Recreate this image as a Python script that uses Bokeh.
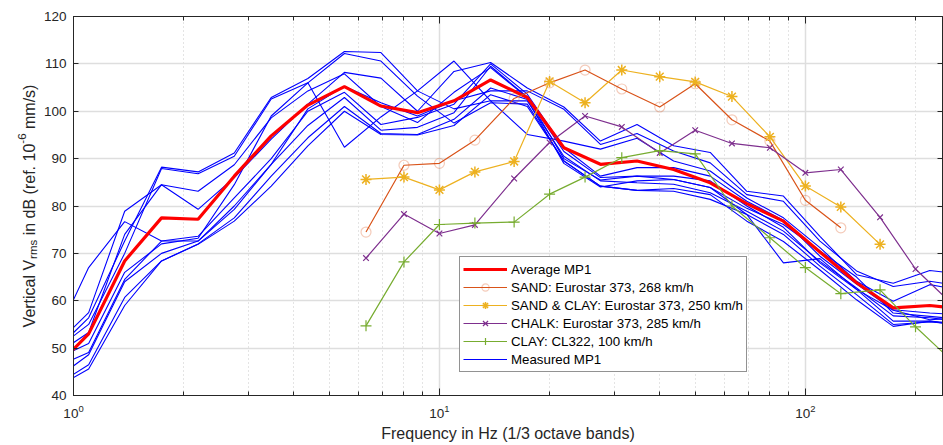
import math

from bokeh.plotting import figure
from bokeh.layouts import row
from bokeh.core.properties import value
from bokeh.models import (Range1d, LogAxis, LinearAxis, FixedTicker, LogTicker,
                          Legend, LegendItem)
from bokeh.embed import file_html
from bokeh.resources import INLINE

# ---------------------------------------------------------------------------
# Data
# ---------------------------------------------------------------------------
# Frequencies of the measured 1/3-octave spectra at MP1 (Hz)
meas_freq = [0.87, 1.1, 1.38, 1.74, 2.19, 2.75, 3.47, 4.37, 5.5, 6.92, 8.71,
             10.96, 13.8, 17.38, 21.88, 27.54, 34.67, 43.65, 54.95, 69.18,
             87.1, 109.6, 138.0, 173.8, 218.8, 275.4]

# Individual measured passes at MP1 (dB ref. 1e-6 mm/s)
measured_mp1 = [
    [50.3, 67.0, 76.7, 72.6, 72.6, 79.3, 88.8, 100.5, 105.3, 101.8, 99.0, 102.2, 104.3,
     104.3, 100.4, 93.0, 95.3, 91.6, 89.1, 82.4, 81.0, 72.6, 66.3, 63.0, 64.1, 63.0],
    [49.8, 57.5, 78.9, 84.5, 83.1, 88.7, 98.6, 104.3, 107.9, 101.0, 97.6, 104.0, 109.2,
     102.9, 91.5, 86.0, 86.3, 85.6, 83.9, 79.5, 76.1, 70.5, 65.0, 57.4, 56.7, 56.0],
    [48.7, 56.4, 72.6, 88.2, 87.2, 91.2, 102.9, 106.9, 112.6, 112.4, 104.3, 100.5, 102.2,
     102.2, 90.5, 85.3, 84.9, 84.6, 82.8, 78.9, 74.7, 68.3, 62.7, 56.8, 56.4, 55.5],
    [49.0, 55.0, 70.0, 87.9, 86.8, 90.5, 102.6, 106.0, 112.2, 110.6, 103.2, 97.5, 101.8,
     101.5, 89.5, 84.2, 83.3, 83.1, 81.4, 78.2, 68.0, 68.9, 62.4, 55.7, 55.7, 55.0],
    [48.0, 53.3, 74.0, 84.5, 79.3, 86.0, 94.1, 101.5, 108.2, 107.0, 100.0, 108.4, 110.3,
     104.9, 100.9, 93.7, 97.2, 92.7, 91.3, 83.1, 82.1, 73.6, 65.5, 63.7, 66.4, 65.5],
    [47.2, 51.0, 66.0, 72.0, 73.2, 84.5, 99.0, 106.0, 92.4, 98.8, 104.3, 110.6, 102.2,
     95.1, 93.7, 92.0, 94.3, 89.5, 87.4, 81.7, 77.5, 71.2, 64.1, 59.9, 63.4, 62.0],
    [45.6, 49.1, 64.5, 72.6, 73.6, 81.7, 90.0, 100.0, 104.0, 97.2, 98.7, 101.5, 110.0,
     103.6, 92.3, 86.3, 88.1, 88.1, 86.3, 81.0, 77.0, 69.4, 63.5, 58.1, 57.4, 57.0],
    [42.8, 48.6, 64.0, 70.0, 72.6, 80.0, 88.8, 97.0, 102.9, 96.0, 96.6, 99.7, 109.5,
     103.0, 90.0, 85.5, 86.3, 86.3, 85.3, 80.0, 75.5, 68.0, 62.4, 58.0, 56.0, 56.5],
    [41.5, 46.5, 60.7, 68.4, 72.0, 77.5, 86.3, 94.4, 101.0, 95.3, 95.1, 98.3, 104.9,
     102.5, 89.0, 84.0, 85.3, 85.6, 83.9, 78.2, 74.0, 67.3, 61.3, 55.0, 55.5, 55.0],
    [41.1, 45.6, 59.0, 68.4, 71.9, 76.8, 84.2, 92.7, 100.0, 95.1, 95.0, 97.0, 103.5,
     101.0, 89.5, 84.2, 83.3, 83.7, 82.4, 76.8, 72.5, 66.5, 60.2, 54.6, 55.7, 54.5],
]

# Average of the measured passes
average_mp1 = [45.0, 53.0, 68.4, 77.5, 77.2, 86.3, 94.8, 101.3, 105.2, 101.1, 99.7,
               102.2, 106.6, 102.9, 92.3, 88.8, 89.5, 87.7, 84.9, 80.5, 76.8, 70.3,
               63.8, 58.5, 59.0, 58.2]

# Band centres of the reference spectra (Hz)
ref_freq = [6.3, 8, 10, 12.5, 16, 20, 25, 31.5, 40, 50, 63, 80, 100, 125, 160, 200, 250]

sand_268 = [74.5, 88.6, 89.0, 93.9, 102.7, 106.0, 108.7, 104.7, 100.9, 105.8, 98.2,
            93.7, 81.2, 75.4]
sand_clay_250 = [85.6, 86.1, 83.4, 87.2, 89.4, 106.3, 101.8, 108.7, 107.3, 106.2,
                 103.1, 94.6, 84.2, 79.8, 71.9]
chalk_285 = [69.0, 78.3, 74.2, 76.0, 85.8, 93.4, 99.0, 96.7, 91.2, 96.0, 93.2, 92.3,
             87.0, 87.7, 77.6, 66.7, 59.5]
clay_cl322 = [54.7, 68.2, 76.1, 76.4, 76.6, 82.5, 86.1, 90.2, 91.7, 91.0, 80.0, 73.3,
              67.0, 61.5, 62.3, 54.5, 47.5]

y_ticks = [40, 50, 60, 70, 80, 90, 100, 110, 120]

# ---------------------------------------------------------------------------
# Layout constants (pixels)
# ---------------------------------------------------------------------------
FONT = "Liberation Sans"
AXIS_COLOR = "#262626"

TOTAL_W, TOTAL_H = 943, 445
TITLE_W = 40                      # strip holding the vertical axis title
FRAME_L, FRAME_T, FRAME_W, FRAME_H = 73, 16, 869, 379
FRAME_B = TOTAL_H - FRAME_T - FRAME_H
X_MAX = 237.0

# ---------------------------------------------------------------------------
# Main plot
# ---------------------------------------------------------------------------
p = figure(width=TOTAL_W - TITLE_W, height=TOTAL_H, x_axis_type="log",
           x_range=Range1d(1, X_MAX), y_range=Range1d(40, 120),
           output_backend="svg", toolbar_location=None,
           min_border_left=FRAME_L - TITLE_W,
           min_border_right=TOTAL_W - FRAME_L - FRAME_W,
           min_border_top=FRAME_T, min_border_bottom=FRAME_B)
p.background_fill_color = "white"
p.border_fill_color = "white"
p.outline_line_color = AXIS_COLOR
p.outline_line_width = 1

# grid
p.xgrid.grid_line_color = "#dedede"
p.xgrid.grid_line_width = 1.5
p.xgrid.minor_grid_line_color = "#c8c8c8"
p.xgrid.minor_grid_line_dash = "1 3"
p.xgrid.minor_grid_line_width = 1
p.ygrid.grid_line_color = "#dedede"
p.ygrid.grid_line_width = 1.5
p.ygrid.ticker = FixedTicker(ticks=y_ticks, minor_ticks=[])

x_ticker = LogTicker(num_minor_ticks=10)
y_ticker = FixedTicker(ticks=y_ticks, minor_ticks=[])


def style_axis(ax, major_in, minor_in, labels=True):
    ax.axis_line_color = AXIS_COLOR
    ax.major_tick_line_color = AXIS_COLOR
    ax.minor_tick_line_color = AXIS_COLOR
    ax.major_tick_in = major_in
    ax.major_tick_out = 0
    ax.minor_tick_in = minor_in
    ax.minor_tick_out = 0
    ax.major_label_text_font = FONT
    ax.major_label_text_color = AXIS_COLOR
    if labels:
        ax.major_label_text_font_size = "13.5px"
    else:
        # the box sides carry ticks only
        ax.major_label_text_font_size = "1px"
        ax.major_label_text_alpha = 0
        ax.major_label_standoff = 0


xax = p.xaxis[0]
xax.ticker = x_ticker
style_axis(xax, 7, 4)
xax.major_label_standoff = 9
xax.axis_label = "Frequency in Hz (1/3 octave bands)"
xax.axis_label_text_font = FONT
xax.axis_label_text_font_size = "16px"
xax.axis_label_text_font_style = "normal"
xax.axis_label_text_color = AXIS_COLOR
xax.axis_label_standoff = 4

yax = p.yaxis[0]
yax.ticker = y_ticker
style_axis(yax, 5, 0)
yax.major_label_standoff = 7

top = LogAxis(ticker=x_ticker)
style_axis(top, 7, 4, labels=False)
p.add_layout(top, "above")

right = LinearAxis(ticker=y_ticker)
style_axis(right, 5, 0, labels=False)
p.add_layout(right, "right")

# ---------------------------------------------------------------------------
# Series
# ---------------------------------------------------------------------------
blue_r = None
for run in measured_mp1:
    blue_r = p.line(meas_freq, run, line_color="#0000ff", line_width=1.1)

avg_r = p.line(meas_freq, average_mp1, line_color="#ff0000", line_width=3.2)


def ref_series(values, color, marker, size, marker_alpha=1.0, mwidth=1.2):
    f = ref_freq[:len(values)]
    ln = p.line(f, values, line_color=color, line_width=1.2)
    mk = p.scatter(f, values, marker=marker, size=size, fill_color=None,
                   line_color=color, line_alpha=marker_alpha, line_width=mwidth)
    return [ln, mk]


sand_r = ref_series(sand_268, "#D95319", "circle", 10, marker_alpha=0.3)
sandclay_r = ref_series(sand_clay_250, "#EDB120", "asterisk", 11, mwidth=1.5)
chalk_r = ref_series(chalk_285, "#7E2F8E", "x", 8)
clay_r = ref_series(clay_cl322, "#77AC30", "cross", 11)

legend = Legend(items=[
    LegendItem(label="Average MP1", renderers=[avg_r]),
    LegendItem(label="SAND: Eurostar 373, 268 km/h", renderers=sand_r),
    LegendItem(label="SAND & CLAY: Eurostar 373, 250 km/h", renderers=sandclay_r),
    LegendItem(label="CHALK: Eurostar 373, 285 km/h", renderers=chalk_r),
    LegendItem(label="CLAY: CL322, 100 km/h", renderers=clay_r),
    LegendItem(label="Measured MP1", renderers=[blue_r]),
], location=(386, 23))
legend.border_line_color = AXIS_COLOR
legend.border_line_width = 1
legend.background_fill_color = "white"
legend.background_fill_alpha = 1.0
legend.label_text_font = FONT
legend.label_text_font_size = "13.3px"
legend.label_text_color = "#000000"
legend.glyph_width = 44
legend.glyph_height = 18
legend.label_height = 18
legend.label_standoff = 4
legend.spacing = 0
legend.padding = 3
legend.margin = 0
p.add_layout(legend)

# ---------------------------------------------------------------------------
# Vertical axis title (with subscript and superscript) in its own strip.
# The strip's frame spans the same rows as the main frame; its y coordinate
# counts pixels up from the bottom of the page.
# ---------------------------------------------------------------------------
side = figure(width=TITLE_W, height=TOTAL_H, x_range=Range1d(0, TITLE_W),
              y_range=Range1d(FRAME_B, TOTAL_H - FRAME_T), output_backend="svg",
              toolbar_location=None, x_axis_location=None, y_axis_location=None,
              min_border_left=0, min_border_right=0,
              min_border_top=FRAME_T, min_border_bottom=FRAME_B)
side.outline_line_color = None
side.background_fill_color = "white"
side.border_fill_color = "white"
side.xgrid.visible = False
side.ygrid.visible = False

baseline_x = 28.5          # baseline of the rotated text
start_y = TOTAL_H - 326.9  # where the text begins (reads bottom to top)
# text piece, distance along the baseline, font size, shift across the baseline
title_pieces = [
    ("Vertical V", 0.0, "16px", 0),
    ("rms", 68.5, "11.5px", 4),
    ("in dB (ref. 10", 92.1, "16px", 0),
    ("-6", 183.7, "11.5px", -7),
    ("mm/s)", 198.4, "16px", 0),
]
for txt, along, size, shift in title_pieces:
    side.text(x=[baseline_x + shift], y=[start_y + along], text=[txt],
              angle=math.pi / 2, text_align="left", text_baseline="alphabetic",
              text_font=value(FONT), text_font_size=value(size),
              text_color=AXIS_COLOR)

layout = row(side, p, spacing=0)

open("out.html", "w").write(file_html(layout, INLINE))
